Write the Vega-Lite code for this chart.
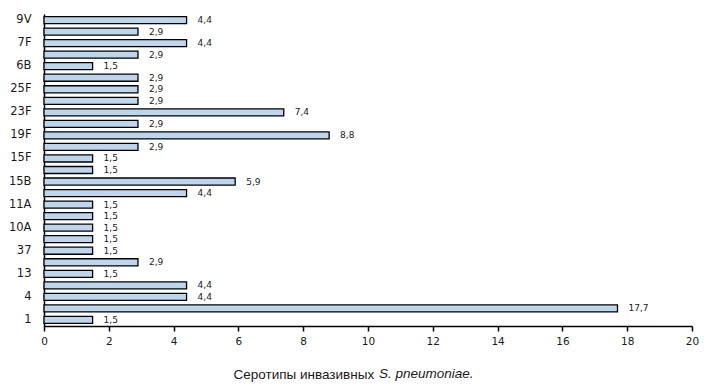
{
  "$schema": "https://vega.github.io/schema/vega-lite/v6.json",
  "autosize": "none",
  "width": 648,
  "height": 312,
  "padding": {"left": 44, "top": 14, "right": 23, "bottom": 60},
  "background": "white",
  "config": {
    "view": {"stroke": null},
    "locale": {"number": {"decimal": ",", "thousands": " ", "grouping": [3], "currency": ["", ""]}}
  },
  "title": {
    "text": "S. pneumoniae.",
    "orient": "top",
    "frame": "group",
    "anchor": "start",
    "align": "left",
    "baseline": "alphabetic",
    "dx": 335,
    "dy": 378,
    "offset": 0,
    "font": "Liberation Sans",
    "fontSize": 13.5,
    "fontStyle": "italic",
    "fontWeight": "normal",
    "color": "#1a1a1a"
  },
  "data": {
    "values": [
      {"serotype": "9V", "pct": 4.4},
      {"serotype": "8", "pct": 2.9},
      {"serotype": "7F", "pct": 4.4},
      {"serotype": "7C", "pct": 2.9},
      {"serotype": "6B", "pct": 1.5},
      {"serotype": "6A", "pct": 2.9},
      {"serotype": "25F", "pct": 2.9},
      {"serotype": "24F", "pct": 2.9},
      {"serotype": "23F", "pct": 7.4},
      {"serotype": "23A", "pct": 2.9},
      {"serotype": "19F", "pct": 8.8},
      {"serotype": "19A", "pct": 2.9},
      {"serotype": "15F", "pct": 1.5},
      {"serotype": "15C", "pct": 1.5},
      {"serotype": "15B", "pct": 5.9},
      {"serotype": "15A", "pct": 4.4},
      {"serotype": "11A", "pct": 1.5},
      {"serotype": "11B", "pct": 1.5},
      {"serotype": "10A", "pct": 1.5},
      {"serotype": "10F", "pct": 1.5},
      {"serotype": "37", "pct": 1.5},
      {"serotype": "35B", "pct": 2.9},
      {"serotype": "13", "pct": 1.5},
      {"serotype": "6C", "pct": 4.4},
      {"serotype": "4", "pct": 4.4},
      {"serotype": "3", "pct": 17.7},
      {"serotype": "1", "pct": 1.5}
    ]
  },
  "encoding": {
    "y": {
      "field": "serotype",
      "type": "nominal",
      "sort": null,
      "scale": {"paddingInner": 0.39, "paddingOuter": 0.22},
      "axis": {
        "title": null,
        "values": ["9V", "7F", "6B", "25F", "23F", "19F", "15F", "15B", "11A", "10A", "37", "13", "4", "1"],
        "ticks": false,
        "domainColor": "#000000",
        "domainWidth": 1.5,
        "labelFont": "DejaVu Sans",
        "labelFontSize": 11.5,
        "labelColor": "#1a1a1a",
        "labelPadding": 13
      }
    },
    "x": {
      "field": "pct",
      "type": "quantitative",
      "scale": {"domain": [0, 20], "nice": false},
      "axis": {
        "title": "Серотипы инвазивных",
        "titleAnchor": "start",
        "titleAlign": "left",
        "titleBaseline": "alphabetic",
        "titleX": 189,
        "titleY": 52,
        "values": [0, 2, 4, 6, 8, 10, 12, 14, 16, 18, 20],
        "format": "d",
        "grid": false,
        "labelFlush": false,
        "domainColor": "#000000",
        "domainWidth": 1.5,
        "tickColor": "#000000",
        "tickWidth": 1.5,
        "tickSize": 5,
        "labelFont": "DejaVu Sans",
        "labelFontSize": 10.5,
        "labelColor": "#1a1a1a",
        "labelPadding": 5,
        "titleFont": "Liberation Sans",
        "titleFontSize": 13.5,
        "titleFontWeight": "normal",
        "titleColor": "#1a1a1a"
      }
    }
  },
  "layer": [
    {
      "mark": {"type": "bar", "fill": "#bdd5ed", "stroke": "#000000", "strokeWidth": 1.3}
    },
    {
      "mark": {"type": "text", "align": "left", "baseline": "middle", "dx": 11, "font": "DejaVu Sans", "fontSize": 9, "color": "#1a1a1a"},
      "encoding": {"text": {"field": "pct", "type": "quantitative", "format": ".1f"}}
    }
  ]
}
